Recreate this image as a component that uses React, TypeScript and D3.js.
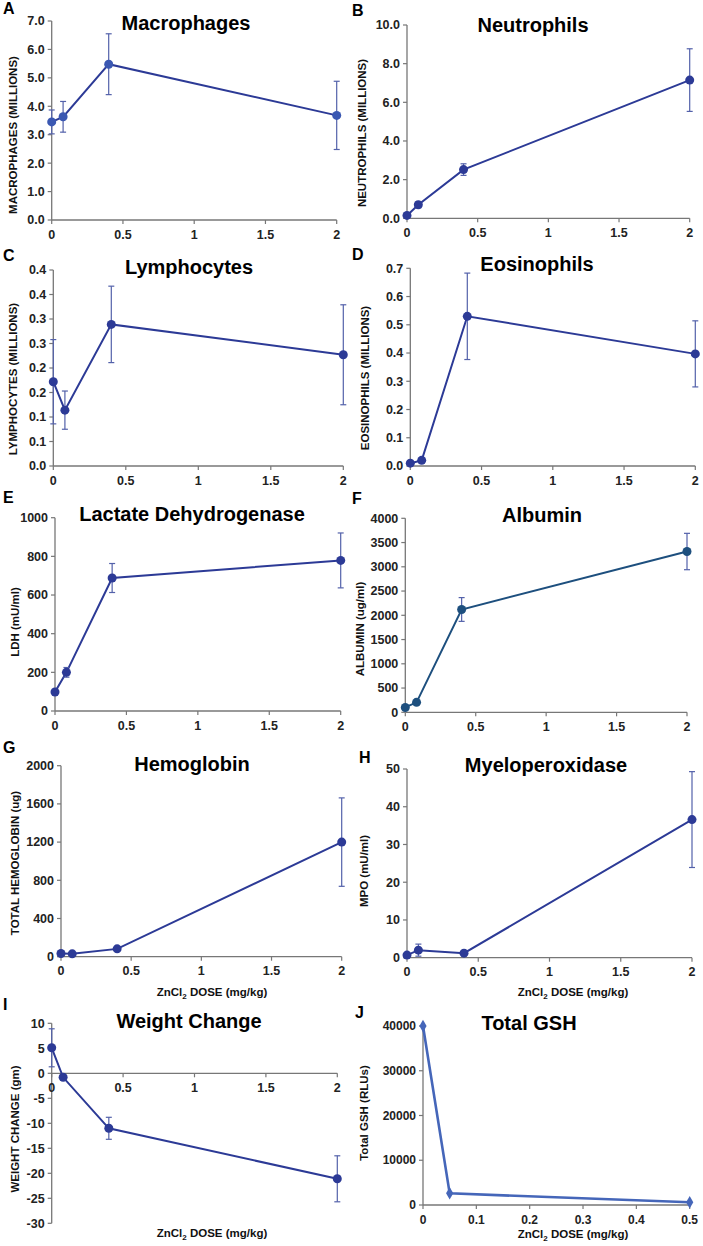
import React from 'react';
import * as d3 from 'd3';

// ---------- DATA ----------
const doses = [0, 0.08, 0.4, 2];
const gshDoses = [0, 0.05, 0.5];

const macrophages = [3.45, 3.63, 5.48, 3.68];
const macrophagesErr = [0.42, 0.54, 1.07, 1.2];
const neutrophils = [0.15, 0.7, 2.52, 7.15];
const neutrophilsErr = [0.05, 0.15, 0.3, 1.62];
const lymphocytes = [0.172, 0.114, 0.289, 0.227];
const lymphocytesErr = [0.086, 0.039, 0.078, 0.102];
const eosinophils = [0.01, 0.02, 0.53, 0.397];
const eosinophilsErr = [0.005, 0.008, 0.153, 0.117];
const ldh = [98, 200, 688, 779];
const ldhErr = [10, 25, 75, 142];
const albumin = [100, 205, 2120, 3315];
const albuminErr = [20, 25, 245, 375];
const hemoglobin = [33, 30, 82, 1200];
const hemoglobinErr = [10, 8, 15, 463];
const mpo = [0.7, 2.0, 1.2, 36.6];
const mpoErr = [0.4, 1.6, 0.6, 12.7];
const weightChange = [5.1, -0.8, -11.0, -21.1];
const weightChangeErr = [3.8, 0.4, 2.2, 4.6];
const totalGsh = [40000, 2600, 600];

const xTicks = [0, 0.5, 1, 1.5, 2];
const xTickLabels = ['0', '0.5', '1', '1.5', '2'];
const gshXTicks = [0, 0.1, 0.2, 0.3, 0.4, 0.5];
const gshXTickLabels = ['0', '0.1', '0.2', '0.3', '0.4', '0.5'];

const macroTicks = [0, 1, 2, 3, 4, 5, 6, 7];
const macroTickLabels = ['0.0', '1.0', '2.0', '3.0', '4.0', '5.0', '6.0', '7.0'];
const neutroTicks = [0, 2, 4, 6, 8, 10];
const neutroTickLabels = ['0.0', '2.0', '4.0', '6.0', '8.0', '10.0'];
const lymphTicks = [0, 0.05, 0.1, 0.15, 0.2, 0.25, 0.3, 0.35, 0.4];
const lymphTickLabels = ['0.0', '0.1', '0.1', '0.2', '0.2', '0.3', '0.3', '0.4', '0.4'];
const eosTicks = [0, 0.1, 0.2, 0.3, 0.4, 0.5, 0.6, 0.7];
const eosTickLabels = ['0.0', '0.1', '0.2', '0.3', '0.4', '0.5', '0.6', '0.7'];
const ldhTicks = [0, 200, 400, 600, 800, 1000];
const ldhTickLabels = ['0', '200', '400', '600', '800', '1000'];
const albTicks = [0, 500, 1000, 1500, 2000, 2500, 3000, 3500, 4000];
const albTickLabels = ['0', '500', '1000', '1500', '2000', '2500', '3000', '3500', '4000'];
const hgbTicks = [0, 400, 800, 1200, 1600, 2000];
const hgbTickLabels = ['0', '400', '800', '1200', '1600', '2000'];
const mpoTicks = [0, 10, 20, 30, 40, 50];
const mpoTickLabels = ['0', '10', '20', '30', '40', '50'];
const wtTicks = [-30, -25, -20, -15, -10, -5, 0, 5, 10];
const wtTickLabels = ['-30', '-25', '-20', '-15', '-10', '-5', '0', '5', '10'];
const gshTicks = [0, 10000, 20000, 30000, 40000];
const gshTickLabels = ['0', '10000', '20000', '30000', '40000'];

// ---------- STYLE / LAYOUT ----------
const FONT = '"Liberation Sans", Arial, Helvetica, sans-serif';
const NAVY = '#2c3a96';
const ERRC = '#5361aa';
const AXIS = '#777777';

type PanelProps = {
  letter: string; title: string; yTitle: string;
  xs: number[]; ys: number[]; errs?: number[];
  xT: number[]; xL: string[]; yT: number[]; yL: string[];
  box: [number, number, number, number]; // x0, x1, yTop, yBottom
  letterPos: [number, number]; titlePos: [number, number]; yTitlePos: [number, number]; xTitlePos?: [number, number];
  line: string; marker: string; diamond?: boolean; lw?: number; zeroAxis?: boolean; tickSize?: number;
};

function Panel(p: PanelProps) {
  const [x0, x1, yTop, yBot] = p.box;
  const ts = p.tickSize ?? 12.5;
  const x = d3.scaleLinear().domain([p.xT[0], p.xT[p.xT.length - 1]]).range([x0, x1]);
  const y = d3.scaleLinear().domain([p.yT[0], p.yT[p.yT.length - 1]]).range([yBot, yTop]);
  const axisY = p.zeroAxis ? y(0) : y(p.yT[0]);
  const pts = p.xs.map((d, i) => [d, p.ys[i]] as [number, number]);
  const path = d3.line<[number, number]>().x(d => x(d[0])).y(d => y(d[1]))(pts) || '';
  const diamond = d3.symbol().type(d3.symbolDiamond).size(45)() || '';
  return (
    <g>
      <text x={p.letterPos[0]} y={p.letterPos[1]} fontSize={16} fontWeight="bold" fontFamily={FONT}>{p.letter}</text>
      <text x={p.titlePos[0]} y={p.titlePos[1]} fontSize={20} fontWeight="bold" fontFamily={FONT} textAnchor="middle">{p.title}</text>
      <text transform={`translate(${p.yTitlePos[0]},${p.yTitlePos[1]}) rotate(-90)`} dy="0.35em" fontSize={11.5}
        fontWeight="bold" fontFamily={FONT} textAnchor="middle" fill="#111">{p.yTitle}</text>
      {p.xTitlePos && (
        <text x={p.xTitlePos[0]} y={p.xTitlePos[1]} fontSize={11.5} fontWeight="bold" fontFamily={FONT} textAnchor="middle" fill="#111">
          ZnCl<tspan fontSize={8} dy={3}>2</tspan><tspan dy={-3}> DOSE (mg/kg)</tspan>
        </text>
      )}
      {/* axes */}
      <line x1={x0} x2={x0} y1={y(p.yT[0])} y2={y(p.yT[p.yT.length - 1])} stroke={AXIS} strokeWidth={1.3} />
      <line x1={x0} x2={x1} y1={axisY} y2={axisY} stroke={AXIS} strokeWidth={1.3} />
      {p.yT.map((t, i) => (
        <g key={'y' + i}>
          <line x1={x0 - 4} x2={x0} y1={y(t)} y2={y(t)} stroke={AXIS} strokeWidth={1.2} />
          <text x={x0 - 7} y={y(t)} dy="0.35em" textAnchor="end" fontSize={ts} fontWeight="bold" fontFamily={FONT} fill="#222">{p.yL[i]}</text>
        </g>
      ))}
      {p.xT.map((t, i) => (
        <g key={'x' + i}>
          <line x1={x(t)} x2={x(t)} y1={axisY} y2={axisY + 4} stroke={AXIS} strokeWidth={1.2} />
          <text x={x(t)} y={axisY + 18.5} textAnchor="middle" fontSize={ts} fontWeight="bold" fontFamily={FONT} fill="#222">{p.xL[i]}</text>
        </g>
      ))}
      {/* series */}
      <path d={path} fill="none" stroke={p.line} strokeWidth={p.lw ?? 2} />
      {p.errs && pts.map((d, i) => {
        const e = p.errs![i];
        const cx = x(d[0]);
        return (
          <g key={'e' + i} stroke={ERRC} strokeWidth={1.2}>
            <line x1={cx} x2={cx} y1={y(d[1] - e)} y2={y(d[1] + e)} />
            <line x1={cx - 3} x2={cx + 3} y1={y(d[1] - e)} y2={y(d[1] - e)} />
            <line x1={cx - 3} x2={cx + 3} y1={y(d[1] + e)} y2={y(d[1] + e)} />
          </g>
        );
      })}
      {pts.map((d, i) => p.diamond
        ? <path key={'m' + i} d={diamond} transform={`translate(${x(d[0])},${y(d[1])})`} fill={p.marker} />
        : <circle key={'m' + i} cx={x(d[0])} cy={y(d[1])} r={4.5} fill={p.marker} />)}
    </g>
  );
}

export default function App() {
  return (
    <svg width={703} height={1246} style={{ position: 'absolute', left: 0, top: 0, background: '#fff' }}>
      <Panel letter="A" title="Macrophages" yTitle="MACROPHAGES (MILLIONS)" xs={doses} ys={macrophages} errs={macrophagesErr}
        xT={xTicks} xL={xTickLabels} yT={macroTicks} yL={macroTickLabels} box={[51.7, 336.7, 21, 220]}
        letterPos={[3, 14]} titlePos={[186, 30]} yTitlePos={[13, 135]} line={NAVY} marker="#3b58b2" />
      <Panel letter="B" title="Neutrophils" yTitle="NEUTROPHILS (MILLIONS)" xs={doses} ys={neutrophils} errs={neutrophilsErr}
        xT={xTicks} xL={xTickLabels} yT={neutroTicks} yL={neutroTickLabels} box={[407, 689.7, 25, 218.3]}
        letterPos={[352, 16]} titlePos={[533, 32]} yTitlePos={[362, 133]} line={NAVY} marker={NAVY} />
      <Panel letter="C" title="Lymphocytes" yTitle="LYMPHOCYTES (MILLIONS)" xs={doses} ys={lymphocytes} errs={lymphocytesErr}
        xT={xTicks} xL={xTickLabels} yT={lymphTicks} yL={lymphTickLabels} box={[53.3, 343.3, 270, 466]}
        letterPos={[3, 261]} titlePos={[189, 274]} yTitlePos={[13, 379]} line={NAVY} marker={NAVY} />
      <Panel letter="D" title="Eosinophils" yTitle="EOSINOPHILS (MILLIONS)" xs={doses} ys={eosinophils} errs={eosinophilsErr}
        xT={xTicks} xL={xTickLabels} yT={eosTicks} yL={eosTickLabels} box={[410.3, 695.3, 268.3, 466]}
        letterPos={[352, 260]} titlePos={[537, 271]} yTitlePos={[365, 378]} line={NAVY} marker={NAVY} />
      <Panel letter="E" title="Lactate Dehydrogenase" yTitle="LDH (mU/ml)" xs={doses} ys={ldh} errs={ldhErr}
        xT={xTicks} xL={xTickLabels} yT={ldhTicks} yL={ldhTickLabels} box={[55, 340.7, 517.7, 711]}
        letterPos={[3, 503]} titlePos={[192, 521]} yTitlePos={[15, 622]} line={NAVY} marker={NAVY} />
      <Panel letter="F" title="Albumin" yTitle="ALBUMIN (ug/ml)" xs={doses} ys={albumin} errs={albuminErr}
        xT={xTicks} xL={xTickLabels} yT={albTicks} yL={albTickLabels} box={[405.3, 687, 518.3, 712.3]}
        letterPos={[352, 504]} titlePos={[542, 522]} yTitlePos={[360, 629]} line="#1d4f7e" marker="#1d4f7e" />
      <Panel letter="G" title="Hemoglobin" yTitle="TOTAL HEMOGLOBIN (ug)" xs={doses} ys={hemoglobin} errs={hemoglobinErr}
        xT={xTicks} xL={xTickLabels} yT={hgbTicks} yL={hgbTickLabels} box={[61, 341.7, 765.7, 956.7]}
        letterPos={[3, 753]} titlePos={[192, 771]} yTitlePos={[15, 863]} xTitlePos={[212, 996]} line={NAVY} marker={NAVY} />
      <Panel letter="H" title="Myeloperoxidase" yTitle="MPO (mU/ml)" xs={doses} ys={mpo} errs={mpoErr}
        xT={xTicks} xL={xTickLabels} yT={mpoTicks} yL={mpoTickLabels} box={[407, 692, 769, 957.7]}
        letterPos={[359, 763]} titlePos={[546, 772]} yTitlePos={[364, 871]} xTitlePos={[573, 996]} line={NAVY} marker={NAVY} />
      <Panel letter="I" title="Weight Change" yTitle="WEIGHT CHANGE (gm)" xs={doses} ys={weightChange} errs={weightChangeErr}
        xT={xTicks} xL={xTickLabels} yT={wtTicks} yL={wtTickLabels} box={[51.7, 337.3, 1023.3, 1223.3]} zeroAxis
        letterPos={[3, 1010]} titlePos={[189, 1028]} yTitlePos={[15, 1129]} xTitlePos={[212, 1237]} line={NAVY} marker={NAVY} />
      <Panel letter="J" title="Total GSH" yTitle="Total GSH (RLUs)" xs={gshDoses} ys={totalGsh}
        xT={gshXTicks} xL={gshXTickLabels} yT={gshTicks} yL={gshTickLabels} box={[423, 689.7, 1026, 1205]}
        letterPos={[355, 1018]} titlePos={[529, 1030]} yTitlePos={[364, 1113]} xTitlePos={[573, 1238]}
        line="#4566b9" marker="#4566b9" diamond lw={2.6} tickSize={12} />
    </svg>
  );
}
